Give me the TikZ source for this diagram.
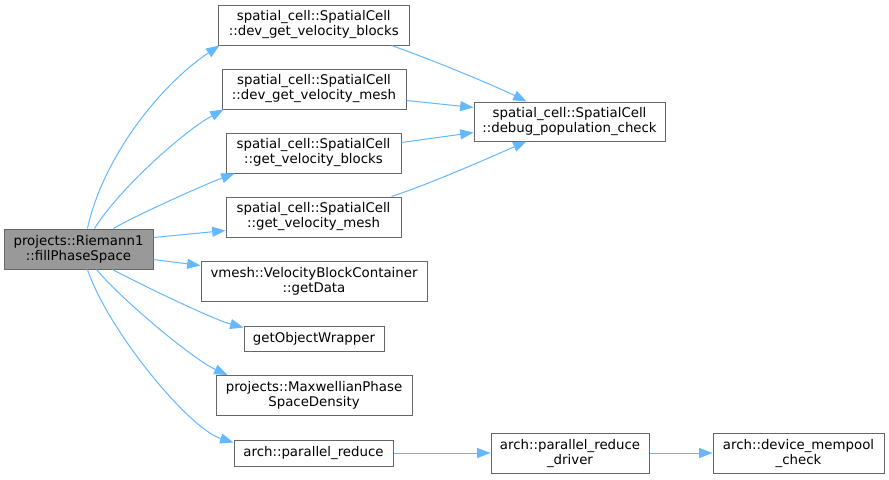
\documentclass[tikz,border=0pt]{standalone}
\usepackage{fontspec}
\setmainfont{DejaVu Sans}
\usetikzlibrary{arrows.meta,calc}
\definecolor{edgec}{HTML}{63B8FF}
\definecolor{bord}{HTML}{666666}
\definecolor{rootfill}{HTML}{999999}
\begin{document}
\begin{tikzpicture}[x=0.75pt,y=0.75pt,
  box/.style={draw=bord,line width=0.75pt,fill=white,inner sep=0pt,align=center,
    font=\fontsize{10}{11.25}\selectfont,text=black},
  root/.style={box,fill=rootfill},
  edge/.style={draw=edgec,line width=0.75pt,-{Triangle[length=10pt,width=7.5pt]}}]
\fill[white] (0,0) rectangle (889,-479);
\useasboundingbox (0,0) rectangle (889,-479);

\node[root,minimum width=111.75pt,minimum height=30pt] (A) at (78.5,-249) {projects::Riemann1\\::fillPhaseSpace};
\node[box,minimum width=142.9pt,minimum height=30pt] (B1) at (313.75,-25) {spatial\_cell::SpatialCell\\::dev\_get\_velocity\_blocks};
\node[box,minimum width=138pt,minimum height=30pt] (B2) at (314,-89) {spatial\_cell::SpatialCell\\::dev\_get\_velocity\_mesh};
\node[box,minimum width=131.25pt,minimum height=30pt] (B3) at (313.5,-153) {spatial\_cell::SpatialCell\\::get\_velocity\_blocks};
\node[box,minimum width=131.25pt,minimum height=30pt] (B4) at (313.5,-217) {spatial\_cell::SpatialCell\\::get\_velocity\_mesh};
\node[box,minimum width=169.5pt,minimum height=30pt] (B5) at (314,-281) {vmesh::VelocityBlockContainer\\::getData};
\node[box,minimum width=105pt,minimum height=18.75pt] (B6) at (314,-338.5) {getObjectWrapper};
\node[box,minimum width=147pt,minimum height=30pt] (B7) at (314,-395.5) {projects::MaxwellianPhase\\SpaceDensity};
\node[box,minimum width=119.25pt,minimum height=19.5pt] (B8) at (313.5,-453) {arch::parallel\_reduce};
\node[box,minimum width=143.25pt,minimum height=29.25pt] (C) at (569.5,-121.5) {spatial\_cell::SpatialCell\\::debug\_population\_check};
\node[box,minimum width=118.5pt,minimum height=30pt] (D) at (570,-453) {arch::parallel\_reduce\\\_driver};
\node[box,minimum width=128.25pt,minimum height=30pt] (E) at (798.5,-453) {arch::device\_mempool\\\_check};

\draw[edge] ($(A.north west)+(84,0)$) .. controls +(15,70) and +(-60,-40) .. ($(B1.south west)+(1.5,0)$);
\draw[edge] ($(A.north west)+(91,0)$) .. controls +(25,40) and +(-40,-22) .. ($(B2.south west)+(2,0)$);
\draw[edge] ($(A.north west)+(110,0)$) .. controls +(20,12) and +(-30,-11) .. ($(B3.south west)+(9,0)$);
\draw[edge] ($(A.north east)+(0,-9)$) -- ($(B4.south west)+(0,7)$);
\draw[edge] ($(A.south east)+(0,10)$) -- ($(B5.north west)+(0,-5)$);
\draw[edge] ($(A.south west)+(109,0)$) .. controls +(30,-16) and +(-30,8) .. ($(B6.north west)+(0,-2)$);
\draw[edge] ($(A.south west)+(93,0)$) .. controls +(25,-30) and +(-35,16) .. ($(B7.north west)+(12,0)$);
\draw[edge] ($(A.south west)+(84,0)$) .. controls +(20,-60) and +(-45,14) .. ($(B8.north west)+(0,-3)$);

\draw[edge] ($(B1.south east)+(-18,0)$) .. controls +(40,-14) and +(-30,15) .. ($(C.north west)+(53,0)$);
\draw[edge] ($(B2.south east)+(0,9)$) -- ($(C.north west)+(0,-6)$);
\draw[edge] ($(B3.north east)+(0,-10)$) -- ($(C.south west)+(0,9)$);
\draw[edge] ($(B4.north east)+(-10,0)$) .. controls +(40,13) and +(-30,-13) .. ($(C.south west)+(53,0)$);
\draw[edge] (B8.east) -- (D.west);
\draw[edge] (D.east) -- (E.west);
\end{tikzpicture}
\end{document}
